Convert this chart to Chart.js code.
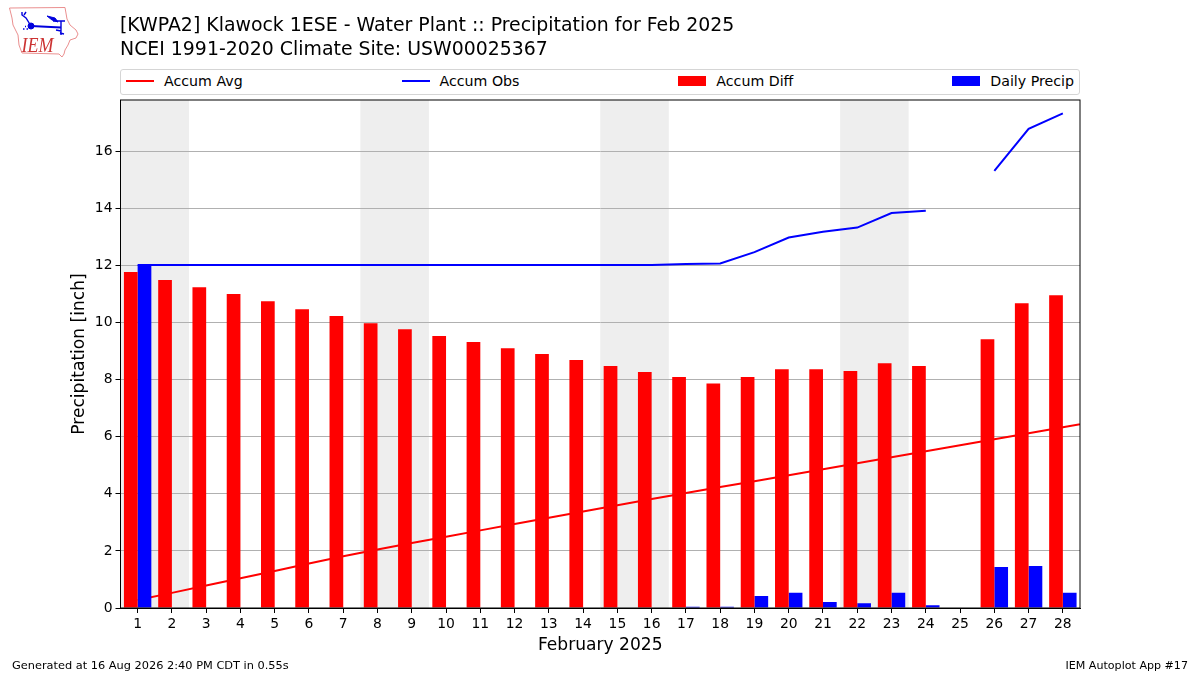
<!DOCTYPE html>
<html>
<head>
<meta charset="utf-8">
<title>KWPA2 Precipitation Feb 2025</title>
<script src="https://cdn.jsdelivr.net/npm/chart.js@4"></script>
<style>
  html, body { margin: 0; padding: 0; background: #fff; }
  body { width: 1200px; height: 675px; position: relative; overflow: hidden; font-family: "DejaVu Sans", sans-serif; color: #000; }
  #wrap { position: absolute; left: 0; top: 0; width: 1200px; height: 675px; }
  #title { position: absolute; left: 120px; top: 13px; font-size: 18.9px; line-height: 23.5px; white-space: nowrap; }
  #logo { position: absolute; left: 0; top: 0; }
  #legend { position: absolute; left: 120px; top: 69px; width: 960px; height: 26px; box-sizing: border-box; border: 1px solid #d5d5d5; border-radius: 3px; display: flex; justify-content: space-between; align-items: center; padding: 0 5px 2px 5px; font-size: 14.2px; background: #fff; }
  .item { display: flex; align-items: center; white-space: nowrap; }
  .swatch { width: 28px; margin-right: 10px; }
  .foot { position: absolute; top: 659px; font-size: 11.1px; white-space: nowrap; }
</style>
</head>
<body>
<div id="wrap"><canvas id="chart" width="1200" height="675"></canvas></div>
<svg id="logo" width="90" height="65">
  <path d="M9.5 8 L65 7.5 L67 19 L70 25 L76 30 L78 34 L76 38 L70 40 L68 45 L65 50 L64 54 L62 57 L59 54 L22 53 L19 45 L18 35 L13 25 L12 18 Z" fill="#fff" stroke="#ea8f8f" stroke-width="1"/>
  <g stroke="#0000dd" fill="none">
    <path d="M31 26 L61 27.5" stroke-width="2.2"/>
    <path d="M22 12 L22 15 L26 18 L31 26 M26 12 L24 15" stroke-width="1.4"/>
    <path d="M47 16 L55 18 L58 22 L52 20 Z" fill="#0000dd" stroke-width="1"/>
    <path d="M53 21 L65 21 M61 21 L61 35 M56 30 L61 31 M60 33 L64 34" stroke-width="1.4"/>
    <circle cx="31" cy="26" r="3" fill="#0000dd"/>
    <path d="M23 29 L24.5 29 M25 26.5 L26 26.5 M26.5 29 L28 29" stroke-width="1.5"/>
  </g>
  <text x="21.5" y="52" font-family="Liberation Serif" font-style="italic" font-size="22" textLength="32" lengthAdjust="spacingAndGlyphs" fill="#cc3333">IEM</text>
</svg>
<div id="title">[KWPA2] Klawock 1ESE - Water Plant :: Precipitation for Feb 2025<br>NCEI 1991-2020 Climate Site: USW00025367</div>
<div id="legend"></div>
<div class="foot" style="left:12px;top:658px;font-size:11.35px">Generated at 16 Aug 2026 2:40 PM CDT in 0.55s</div>
<div class="foot" style="right:12px">IEM Autoplot App #17</div>
<script>
  const days = [1,2,3,4,5,6,7,8,9,10,11,12,13,14,15,16,17,18,19,20,21,22,23,24,25,26,27,28];
  // avg line runs on into March 1 and gets clipped at the plot edge
  const avgDays = days.concat([29]);
  const accumAvg = [0.28,0.53,0.79,1.04,1.3,1.56,1.81,2.05,2.28,2.5,2.72,2.94,3.16,3.38,3.6,3.82,4.03,4.24,4.44,4.65,4.86,5.07,5.28,5.49,5.7,5.91,6.12,6.33,6.55];
  const accumObs = [12.02,12.02,12.02,12.02,12.02,12.02,12.02,12.02,12.02,12.02,12.02,12.02,12.02,12.02,12.02,12.02,12.05,12.07,12.47,12.98,13.18,13.33,13.84,13.92,null,15.32,16.79,17.33];
  const accumDiff = [11.77,11.49,11.24,11.0,10.75,10.47,10.23,9.98,9.77,9.53,9.32,9.1,8.9,8.69,8.48,8.27,8.09,7.87,8.09,8.37,8.37,8.3,8.58,8.48,null,9.42,10.68,10.96];
  const dailyPrecip = [12.02,0,0,0,0,0,0,0,0,0,0,0,0,0,0,0,0.04,0.04,0.42,0.53,0.21,0.17,0.53,0.1,null,1.44,1.47,0.53];
  const weekends = [[0.5,2.5],[7.5,9.5],[14.5,16.5],[21.5,23.5]];
  const yTicks = [0,2,4,6,8,10,12,14,16];

  function pts(xs, ys) {
    return xs.map((x, i) => ({ x: x, y: ys[i] }));
  }

  // grey weekend bands, under the grid lines
  const bands = {
    id: 'bands',
    beforeDraw(chart) {
      const c = chart.ctx, a = chart.chartArea, xs = chart.scales.x;
      c.save();
      c.fillStyle = '#eeeeee';
      weekends.forEach(w => {
        const l = xs.getPixelForValue(w[0]), r = xs.getPixelForValue(w[1]);
        c.fillRect(l, a.top, r - l, a.bottom - a.top);
      });
      c.restore();
    }
  };

  const frame = {
    id: 'frame',
    afterDraw(chart) {
      const c = chart.ctx, a = chart.chartArea;
      c.save();
      c.strokeStyle = '#000';
      c.lineWidth = 1;
      c.strokeRect(a.left, a.top, a.right - a.left, a.bottom - a.top);
      c.restore();
    }
  };

  const ctx = document.getElementById('chart').getContext('2d');
  Chart.defaults.font.family = '"DejaVu Sans"';
  Chart.defaults.color = '#000';

  const chart = new Chart(ctx, {
    data: {
      datasets: [
        // order 2 puts the lines underneath the bars
        { type: 'line', order: 2, label: 'Accum Avg', data: pts(avgDays, accumAvg), borderColor: '#ff0000', borderWidth: 2, pointRadius: 0, tension: 0, fill: false },
        { type: 'line', order: 2, label: 'Accum Obs', data: pts(days, accumObs), borderColor: '#0000ff', borderWidth: 2, pointRadius: 0, tension: 0, fill: false, spanGaps: false },
        { type: 'bar', order: 1, label: 'Accum Diff', data: pts(days, accumDiff), backgroundColor: '#ff0000', categoryPercentage: 0.8, barPercentage: 1 },
        { type: 'bar', order: 1, label: 'Daily Precip', data: pts(days, dailyPrecip), backgroundColor: '#0000ff', categoryPercentage: 0.8, barPercentage: 1 }
      ]
    },
    options: {
      responsive: false,
      animation: false,
      layout: { padding: { left: 69, right: 120, top: 100, bottom: 19 } },
      plugins: { legend: { display: false }, title: { display: false }, tooltip: { enabled: false } },
      scales: {
        x: {
          type: 'linear',
          offset: false,
          min: 0.5,
          max: 28.5,
          afterBuildTicks(s) { s.ticks = days.map(d => ({ value: d })); },
          afterFit(s) { s.height = 48; },
          grid: { drawOnChartArea: false, offset: false, tickLength: 5, tickColor: '#000', tickWidth: 1 },
          border: { color: '#000' },
          ticks: { autoSkip: false, maxRotation: 0, padding: 3, font: { size: 13.9 }, callback: v => v },
          title: { display: true, text: 'February 2025', font: { size: 17.1 }, padding: { top: 4, bottom: 0 } }
        },
        y: {
          min: 0,
          max: 17.8,
          afterBuildTicks(s) { s.ticks = yTicks.map(v => ({ value: v })); },
          afterFit(s) { s.width = 51.5; },
          grid: { color: '#b0b0b0', lineWidth: 1, tickLength: 5, tickColor: '#000' },
          border: { color: '#000' },
          ticks: { padding: 3, font: { size: 13.9 }, callback: v => v },
          title: { display: true, text: 'Precipitation [inch]', font: { size: 17.1 }, padding: { top: 0, bottom: 4 } }
        }
      }
    },
    plugins: [bands, frame]
  });

  // legend in matplotlib's expanded layout, built from the datasets
  const legendEl = document.getElementById('legend');
  chart.data.datasets.forEach(ds => {
    const item = document.createElement('div');
    item.className = 'item';
    const sw = document.createElement('div');
    sw.className = 'swatch';
    if (ds.type === 'line') {
      sw.style.height = '2px';
      sw.style.background = ds.borderColor;
    } else {
      sw.style.height = '10px';
      sw.style.background = ds.backgroundColor;
    }
    const txt = document.createElement('span');
    txt.textContent = ds.label;
    item.appendChild(sw);
    item.appendChild(txt);
    legendEl.appendChild(item);
  });
</script>
</body>
</html>
